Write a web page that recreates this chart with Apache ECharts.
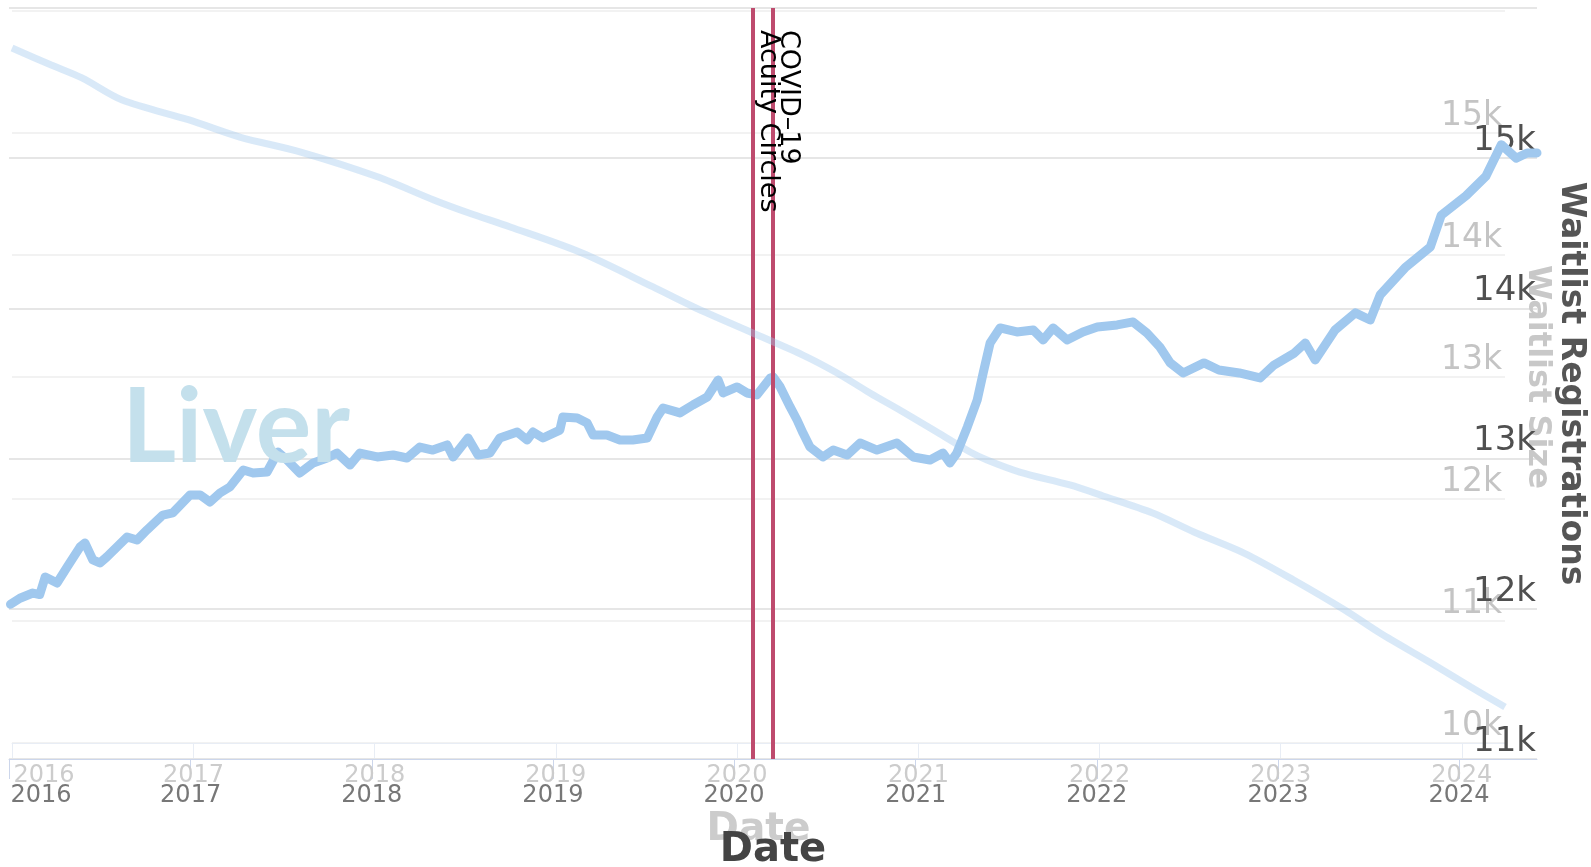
<!DOCTYPE html>
<html><head><meta charset="utf-8">
<script src="https://cdn.jsdelivr.net/npm/echarts@6/dist/echarts.min.js"></script>
<style>html,body{margin:0;padding:0;background:#fff}#c{width:1591px;height:867px}</style>
</head><body><div id="c"></div>
<script>
// Waitlist registrations (dark chart, thick line)
const regDates = ['2016-01-04','2016-01-23','2016-02-18','2016-03-03','2016-03-14','2016-04-07','2016-04-27','2016-05-23','2016-06-02','2016-06-18','2016-07-02','2016-07-16','2016-08-26','2016-09-15','2016-10-05','2016-11-06','2016-11-26','2016-12-31',
'2017-01-20','2017-02-09','2017-03-01','2017-03-21','2017-04-17','2017-05-07','2017-06-04','2017-06-26','2017-07-14','2017-08-09','2017-09-05','2017-10-03','2017-10-23','2017-11-18','2017-12-08',
'2018-01-12','2018-02-13','2018-03-13','2018-04-08','2018-05-04','2018-06-02','2018-06-14','2018-07-14','2018-08-03','2018-08-27','2018-09-16','2018-10-21','2018-11-10','2018-11-22','2018-12-12',
'2019-01-15','2019-01-21','2019-02-19','2019-03-11','2019-03-23','2019-04-20','2019-05-16','2019-06-11','2019-07-10','2019-07-30','2019-08-11','2019-09-14','2019-10-10','2019-11-08','2019-11-30','2019-12-10',
'2020-01-07','2020-01-27','2020-02-16','2020-03-14','2020-03-20','2020-04-03','2020-04-23','2020-05-07','2020-05-19','2020-06-02','2020-06-28','2020-07-19','2020-08-16','2020-09-11','2020-10-15','2020-11-24','2020-12-27',
'2021-01-30','2021-02-25','2021-03-11','2021-03-25','2021-04-15','2021-05-05','2021-05-17','2021-05-31','2021-06-20','2021-07-24','2021-08-26','2021-09-15','2021-10-05','2021-11-02','2021-12-04',
'2022-01-02','2022-02-11','2022-03-15','2022-04-12','2022-05-08','2022-05-29','2022-06-24','2022-08-05','2022-09-04','2022-10-15','2022-11-26','2022-12-24',
'2023-02-03','2023-02-25','2023-03-17','2023-04-26','2023-06-06','2023-07-06','2023-07-26','2023-09-14','2023-11-04','2023-11-26',
'2024-01-15','2024-02-24','2024-03-26','2024-04-25','2024-05-17','2024-06-06'];
const regValues = [12030,12070,12105,12095,12212,12172,12278,12411,12438,12325,12305,12345,12478,12458,12525,12624,12638,12758,
12758,12711,12771,12811,12924,12904,12911,13044,12991,12904,12971,13004,13037,12957,13037,
13011,13024,13004,13077,13057,13091,13011,13137,13024,13037,13137,13177,13124,13177,13137,
13190,13277,13270,13237,13157,13157,13124,13124,13137,13277,13337,13304,13357,13410,13523,13437,
13477,13437,13424,13537,13543,13477,13344,13257,13170,13077,13011,13057,13024,13104,13057,13104,13011,
12991,13037,12971,13037,13210,13390,13570,13770,13870,13843,13856,13790,13870,13790,13843,
13876,13890,13910,13836,13743,13637,13570,13637,13590,13570,13537,13623,
13703,13770,13657,13856,13970,13923,14090,14270,14409,14620,
14750,14880,15090,15000,15035,15035];

// Waitlist size (faint chart, thin line)
const sizeDates = ['2016-01-01','2016-03-20','2016-05-21','2016-08-10','2016-12-23','2017-04-04','2017-08-05','2018-01-08','2018-04-30','2018-07-10','2018-10-01','2019-02-23','2019-07-16','2019-10-06','2020-02-02','2020-05-13','2020-07-21','2020-09-25','2020-12-01','2021-02-07','2021-04-15','2021-05-19','2021-07-24','2021-11-02','2022-01-08','2022-04-18','2022-07-10','2022-10-19','2023-01-27','2023-05-10','2023-07-20','2023-10-31','2024-01-19','2024-03-28'];
const sizeValues = [15697,15557,15451,15270,15107,14967,14844,14639,14451,14344,14230,14016,13738,13574,13361,13180,13033,12869,12713,12549,12385,12320,12221,12115,12025,11885,11730,11557,11336,11090,10902,10656,10459,10295];

const eventDates = ['2020-02-08','2020-03-18'];
const eventNames = ['Acuity Circles','COVID\u201319'];

const organName = 'Liver';
const xAxisTitle = 'Date';
const regAxisTitle = 'Waitlist Registrations';
const sizeAxisTitle = 'Waitlist Size';

const FONT = 'DejaVu Sans';
const DAY = 86400000;
const FIRST_YEAR = 2016;
const yearFmt = v => {
  const d = new Date(v);
  if (!(d.getMonth() === 0 && d.getDate() === 1)) return '';
  const y = d.getFullYear();
  return y === FIRST_YEAR ? '{first|' + y + '}' : String(y);
};
const kFmt = v => (v / 1000) + 'k';

const chart = echarts.init(document.getElementById('c'), null, {renderer: 'canvas'});
chart.setOption({
  animation: false,
  backgroundColor: '#ffffff',
  grid: [
    {left: 12, right: 86, top: 11, bottom: 124, outerBoundsMode: 'none', containLabel: false},
    {left: 9, right: 54, top: 8, bottom: 108, outerBoundsMode: 'none', containLabel: false}
  ],
  xAxis: [
    {type: 'time', gridIndex: 0, min: sizeDates[0], max: sizeDates[sizeDates.length - 1],
     splitNumber: 8, minInterval: 365 * DAY, maxInterval: 366 * DAY,
     axisLine: {lineStyle: {color: '#e8edf5', width: 1}},
     axisTick: {show: true, length: 15, lineStyle: {color: '#e8edf5'}},
     axisLabel: {formatter: yearFmt, color: '#cccccc', fontSize: 24, fontFamily: FONT, margin: 21, hideOverlap: false,
       rich: {first: {color: '#cccccc', fontSize: 24, fontFamily: FONT, padding: [0, 0, 0, 64]}}},
     splitLine: {show: false},
     name: xAxisTitle, nameLocation: 'middle', nameGap: 67, nameMoveOverlap: false,
     nameTextStyle: {color: '#cccccc', fontSize: 39, fontWeight: 'bold', fontFamily: FONT}},
    {type: 'time', gridIndex: 1, min: '2016-01-01', max: regDates[regDates.length - 1],
     splitNumber: 8, minInterval: 365 * DAY, maxInterval: 366 * DAY,
     axisLine: {lineStyle: {color: '#ccd6eb', width: 1}},
     axisTick: {show: true, length: 20, lineStyle: {color: '#ccd6eb'}},
     axisLabel: {formatter: yearFmt, color: '#777777', fontSize: 24, fontFamily: FONT, margin: 25, hideOverlap: false,
       rich: {first: {color: '#777777', fontSize: 24, fontFamily: FONT, padding: [0, 0, 0, 64]}}},
     splitLine: {show: false},
     name: xAxisTitle, nameLocation: 'middle', nameGap: 72, nameMoveOverlap: false,
     nameTextStyle: {color: '#444444', fontSize: 40, fontWeight: 'bold', fontFamily: FONT}}
  ],
  yAxis: [
    {type: 'value', gridIndex: 0, position: 'right', min: 10000, max: 16000, interval: 1000,
     axisLine: {show: false}, axisTick: {show: false},
     splitLine: {lineStyle: {color: '#f2f2f2', width: 2}},
     axisLabel: {inside: true, verticalAlign: 'bottom', margin: 3, color: '#c4c4c4', fontSize: 33, fontFamily: FONT, formatter: kFmt, showMaxLabel: false},
     name: sizeAxisTitle, nameLocation: 'middle', nameRotate: -90, nameGap: 16, nameMoveOverlap: false,
     nameTextStyle: {color: '#c8c8c8', fontSize: 32, fontWeight: 'bold', fontFamily: FONT}},
    {type: 'value', gridIndex: 1, position: 'right', min: 11000, max: 16000, interval: 1000,
     axisLine: {show: false}, axisTick: {show: false},
     splitLine: {lineStyle: {color: '#e6e6e6', width: 2}},
     axisLabel: {inside: true, verticalAlign: 'bottom', margin: 1, color: '#505050', fontSize: 34, fontFamily: FONT, formatter: kFmt, showMaxLabel: false},
     name: regAxisTitle, nameLocation: 'middle', nameRotate: -90, nameGap: 17, nameMoveOverlap: false,
     nameTextStyle: {color: '#555555', fontSize: 33, fontWeight: 'bold', fontFamily: FONT}}
  ],
  series: [
    {type: 'line', name: sizeAxisTitle, xAxisIndex: 0, yAxisIndex: 0, z: 5,
     data: sizeDates.map((d, i) => [d, sizeValues[i]]),
     symbol: 'none', smooth: 0.3,
     lineStyle: {color: 'rgba(160,200,238,0.4)', width: 7}},
    {type: 'line', name: regAxisTitle, xAxisIndex: 1, yAxisIndex: 1, z: 3,
     data: regDates.map((d, i) => [d, regValues[i]]),
     symbol: 'none',
     lineStyle: {color: '#a0c8ee', width: 9, join: 'round', cap: 'round'},
     markLine: {
       silent: true, symbol: 'none', animation: false,
       lineStyle: {color: '#be4b6e', width: 4, type: 'solid'},
       label: {show: true, position: 'insideStartTop', formatter: '{b}', color: '#000000', fontSize: 27, fontFamily: FONT, distance: [22, 2]},
       data: eventDates.map((d, i) => [{name: eventNames[i], coord: [d, 16000]}, {coord: [d, 11000]}])
     }}
  ],
  graphic: [
    {type: 'text', x: 122, y: 428, z: 100,
     style: {text: organName, fontSize: 104, fontWeight: 'bold', fontFamily: 'Lato', fill: '#c4e0ec', verticalAlign: 'middle', blend: 'multiply'}}
  ]
});
</script>
</body></html>
